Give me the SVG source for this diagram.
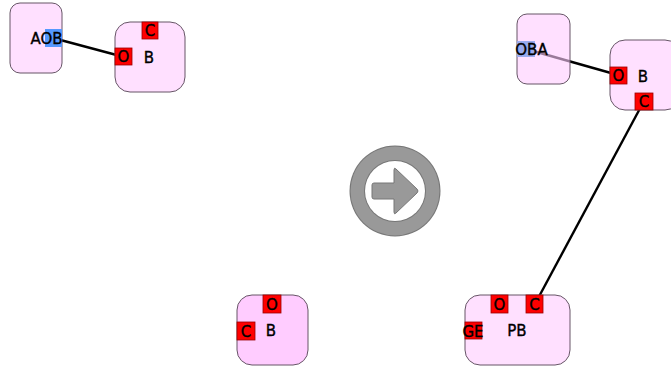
<svg xmlns="http://www.w3.org/2000/svg" width="671" height="369" viewBox="0 0 671 369">
<style>
.node{fill:#ffccff;fill-opacity:0.6;stroke:#665566;stroke-width:1}
.node2{fill:#ffccff;stroke:#665566;stroke-width:1}
.port{fill:#ff0000;stroke:#990000;stroke-width:0.8}
.bport{fill:#5599ff;stroke:none}
.bport2{fill:#99aaee;stroke:none}
text{font-family:"DejaVu Sans",sans-serif;font-size:15px;fill:#000;stroke:#000;stroke-width:0.35;text-anchor:middle}
.edge{stroke:#000;stroke-width:2.4;fill:none}
</style>
<rect width="671" height="369" fill="#fff"/>
<g id="connectors">
<line class="edge" x1="53" y1="38" x2="124" y2="57"/>
<line class="edge" x1="526" y1="49" x2="618" y2="75"/>
<line class="edge" x1="644" y1="101" x2="535" y2="304"/>
</g>
<g id="nodeA">
<rect class="node" x="10" y="3" width="52" height="70" rx="10"/>
<rect class="bport" x="45" y="29" width="17" height="18"/>
<text x="46.5" y="44">AOB</text>
</g>
<g id="nodeB1">
<rect class="node" x="115" y="22" width="70" height="70" rx="15"/>
<rect class="port" x="142" y="22" width="16" height="17"/>
<text x="150" y="36">C</text>
<rect class="port" x="115" y="48" width="17" height="17"/>
<text x="123.5" y="62">O</text>
<text x="149" y="63">B</text>
</g>
<g id="nodeOBA">
<rect class="node" x="517" y="14" width="53" height="70" rx="10"/>
<rect class="bport2" x="517" y="41" width="18" height="16"/>
<text x="531.5" y="55">OBA</text>
</g>
<g id="nodeB2">
<rect class="node" x="610" y="40" width="70" height="70" rx="15"/>
<rect class="port" x="610" y="67" width="17" height="17"/>
<text x="618.5" y="81">O</text>
<rect class="port" x="635" y="93" width="18" height="17"/>
<text x="644" y="107">C</text>
<text x="643" y="82">B</text>
</g>
<g id="nodePB">
<rect class="node" x="465" y="295" width="105" height="70" rx="15"/>
<rect class="port" x="491" y="295" width="17" height="18"/>
<text x="499.5" y="310">O</text>
<rect class="port" x="526" y="295" width="17" height="18"/>
<text x="534.5" y="310">C</text>
<rect class="port" x="465" y="322" width="17" height="17"/>
<text x="473" y="337">GE</text>
<text x="517" y="336">PB</text>
</g>
<g id="nodeB3">
<rect class="node2" x="237" y="295" width="71" height="70" rx="15"/>
<rect class="port" x="263" y="295" width="18" height="18"/>
<text x="272" y="310">O</text>
<rect class="port" x="237" y="322" width="18" height="18"/>
<text x="246" y="337">C</text>
<text x="271" y="336">B</text>
</g>
<g id="arrowIcon">
<circle cx="395" cy="191" r="45.5" fill="#777"/>
<circle cx="395" cy="191" r="44.5" fill="#999"/>
<circle cx="395" cy="191" r="31" fill="#777"/>
<circle cx="395" cy="191" r="30" fill="#fff"/>
<path d="M374,183 L394,183 L394,170 Q394,167 396,169 L417,189 Q419,191 417,193 L396,213 Q394,215 394,212 L394,199 L374,199 Q372,199 372,197 L372,185 Q372,183 374,183 Z" fill="#999" stroke="#777" stroke-width="1"/>
</g>
</svg>
